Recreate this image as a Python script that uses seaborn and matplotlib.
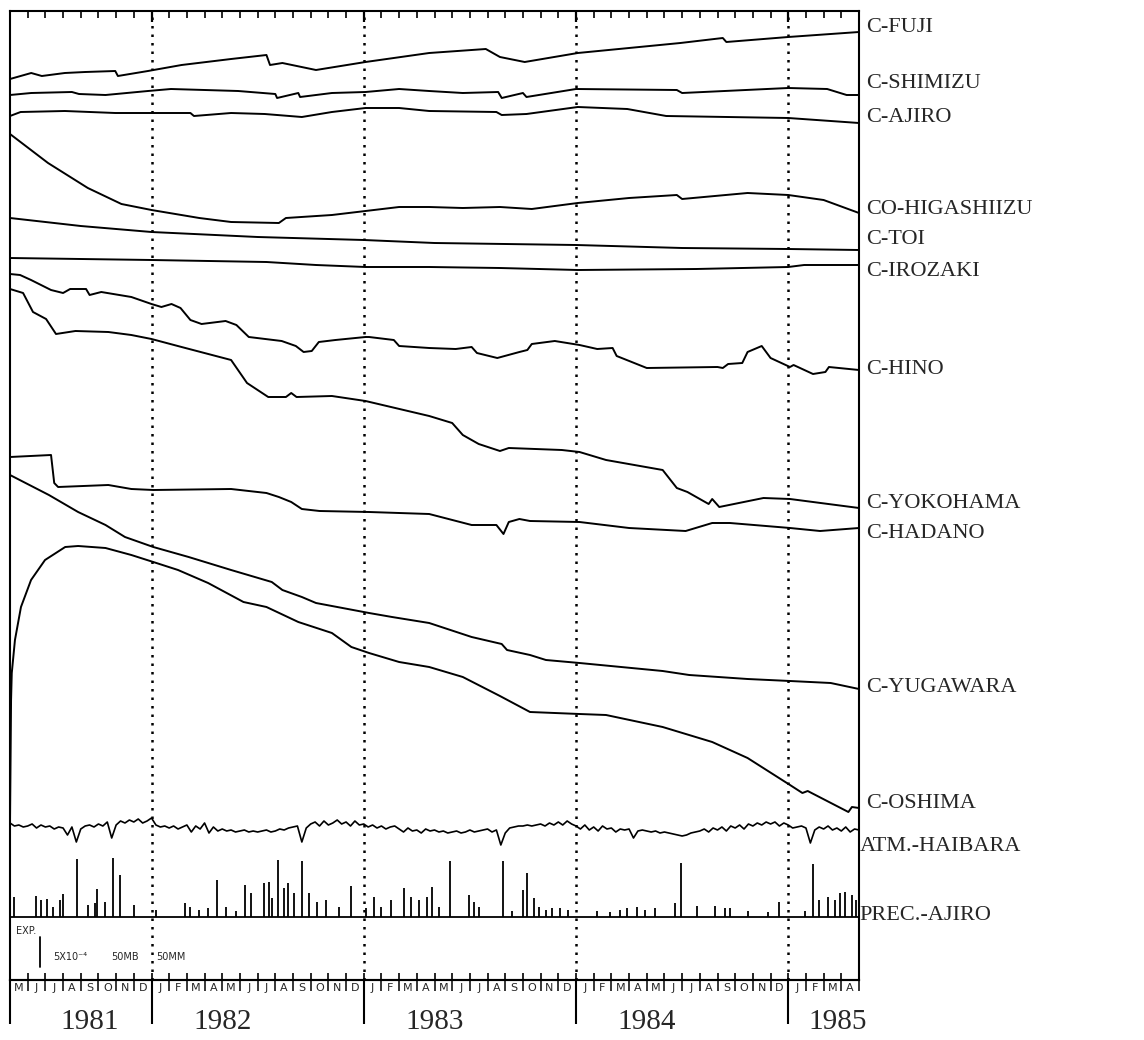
import numpy as np
import pandas as pd
import matplotlib
matplotlib.use('Agg')
import matplotlib.pyplot as plt
import seaborn as sns

# time axis: months since May 1981 (0 .. 48 = May 1985)
month_letters = list("MJJASOND" + "JFMAMJJASOND" * 3 + "JFMA")
month_edges = np.arange(0, 49)
month_centers = month_edges[:-1] + 0.5
year_edges = [0, 8, 20, 32, 44]
year_label_t = [4.5, 12.0, 24.0, 36.0, 46.8]
years = ['1981', '1982', '1983', '1984', '1985']

# traces (vertical level = chart row, larger = lower)
fuji_t = [0, 1.2, 1.8, 3.1, 4.25, 5.95, 6.1, 7.8, 9.7, 12.5, 14.5, 14.7, 15.4, 17.3, 20.1, 23.7,
          26.9, 27.7, 29.1, 32.1, 37.9, 40.3, 40.5, 44.0, 48]
fuji_y = [79, 73, 76, 73, 72, 71, 76, 71, 65, 59, 55, 65, 63, 70, 62, 53,
          49, 57, 62, 53, 43, 38, 42, 37, 32]

shimizu_t = [0, 1.2, 3.5, 3.9, 5.4, 7.8, 9.1, 12.9, 15.0, 15.1, 16.3, 16.4, 18.2, 20.1, 22.0, 23.7,
             25.6, 27.6, 27.8, 29.0, 29.2, 32.0, 37.7, 38.0, 44.0, 46.2, 47.3, 48]
shimizu_y = [95, 93, 92, 94, 95, 91, 89, 91, 94, 98, 93, 97, 93, 92, 89, 91,
             93, 92, 98, 93, 97, 89, 90, 93, 88, 89, 95, 95]

ajiro_t = [0, 0.6, 3.1, 5.95, 10.2, 10.4, 12.5, 14.4, 16.5, 18.2, 20.1, 22.0, 23.7, 27.5, 27.8,
           29.2, 32.1, 34.9, 37.1, 44.0, 48]
ajiro_y = [116, 112, 111, 113, 113, 116, 113, 114, 117, 112, 108, 108, 111, 112, 115,
           114, 107, 109, 116, 118, 123]

higashiizu_t = [0, 2.15, 4.4, 6.3, 8.0, 10.7, 12.5, 15.2, 15.6, 18.2, 20.1, 22.0, 23.7, 25.6, 27.7,
                29.5, 32.1, 35.0, 37.7, 38.0, 41.7, 44.0, 46.0, 48]
higashiizu_y = [134, 163, 188, 204, 210, 218, 222, 223, 218, 215, 211, 207, 207, 208, 207,
                209, 203, 198, 195, 199, 193, 195, 200, 213]

toi_t = [0, 4, 8, 14, 20, 24, 32, 38, 44, 48]
toi_y = [218, 226, 232, 237, 240, 243, 245, 248, 249, 250]

irozaki_t = [0, 8, 14.5, 17.3, 20.1, 23.7, 27.7, 32.1, 38.8, 44, 44.9, 48]
irozaki_y = [258, 260, 262, 265, 267, 267, 268, 270, 269, 267, 265, 265]

hino_t = [0, 0.57, 1.19, 2.32, 3.0, 3.4, 4.3, 4.5, 5.16, 6.86, 8.0, 8.56, 9.13, 9.64, 10.2, 10.83,
          12.19, 12.8, 13.5, 15.36, 16.16, 16.6, 17.06, 17.46, 18.4, 20.1, 20.3, 21.7, 22.0, 23.7,
          25.2, 26.1, 26.4, 27.55, 28.8, 29.25, 29.5, 30.8, 32.2, 33.2, 34.07, 34.3, 36.0, 40.0,
          40.3, 40.6, 41.4, 41.7, 42.5, 43.0, 44.1, 44.3, 45.4, 46.1, 46.3, 48]
hino_y = [274, 275, 280, 290, 293, 289, 289, 295, 292, 297, 304, 307, 304, 308, 320, 324,
          321, 325, 337, 341, 346, 352, 351, 342, 340, 337, 337, 340, 346, 348,
          349, 347, 353, 358, 352, 350, 344, 341, 345, 349, 348, 356, 368, 367,
          368, 364, 363, 352, 346, 358, 367, 365, 374, 372, 367, 370]

yokohama_t = [0, 0.74, 1.3, 2.04, 2.6, 3.7, 5.56, 6.86, 8.0, 9.7, 12.5, 13.4, 14.6, 15.6, 15.9, 16.2,
              18.2, 20.1, 23.7, 25.0, 25.6, 26.5, 27.7, 28.2, 31.2, 32.2, 33.7, 36.9, 37.7, 38.3,
              39.5, 39.7, 40.1, 42.6, 44.1, 48]
yokohama_y = [289, 293, 312, 319, 334, 331, 332, 335, 339, 347, 360, 383, 397, 397, 393, 397,
              396, 401, 416, 423, 435, 444, 451, 448, 450, 452, 460, 470, 488, 492,
              504, 499, 507, 498, 499, 508]

hadano_t = [0, 2.32, 2.5, 2.72, 5.56, 6.86, 8.1, 12.5, 14.5, 15.2, 15.9, 16.5, 17.5, 20.3, 23.7,
            26.1, 27.5, 27.9, 28.2, 28.8, 29.4, 32.2, 35.0, 38.2, 39.7, 40.7, 44.1, 45.8, 48]
hadano_y = [457, 455, 483, 487, 485, 489, 490, 489, 493, 497, 502, 509, 511, 512, 514,
            525, 525, 534, 522, 519, 521, 522, 528, 531, 523, 523, 528, 531, 528]

yugawara_t = [0, 2.2, 3.85, 5.4, 6.5, 8.1, 10.1, 12.5, 14.8, 15.4, 16.5, 17.3, 20.3, 21.6, 23.7,
              26.1, 27.8, 28.1, 29.4, 30.3, 32.2, 36.9, 38.4, 41.7, 44.1, 46.4, 48]
yugawara_y = [475, 495, 512, 525, 537, 547, 557, 570, 582, 590, 597, 603, 613, 617, 623,
              637, 644, 650, 655, 660, 663, 671, 675, 679, 681, 683, 689]

oshima_t = [0.0, 0.06, 0.1, 0.28, 0.62, 1.19, 1.98, 3.12, 3.85, 5.4, 6.86, 8.1, 9.5, 11.2, 13.2,
            14.5, 16.3, 18.2, 19.3, 20.3, 22.0, 23.7, 25.6, 27.7, 29.4, 32.2, 33.7, 36.9, 39.7,
            41.7, 44.1, 44.8, 45.1, 47.4, 47.6, 48]
oshima_y = [822, 700, 673, 640, 607, 580, 560, 547, 546, 548, 555, 562, 570, 583, 602,
            607, 622, 633, 647, 653, 662, 667, 677, 696, 712, 714, 715, 727, 742,
            758, 785, 793, 791, 812, 807, 808]

# atmospheric pressure, read every quarter month
atm_t = np.arange(0, 48.01, 0.25)
atm_y = [823, 826, 825, 827, 826, 824, 828, 825, 827, 826, 829, 827, 828, 835, 827, 842,
         829, 826, 825, 827, 824, 826, 822, 838, 825, 821, 823, 820, 822, 819, 823, 821,
         818, 825, 827, 826, 828, 826, 829, 827, 825, 832, 826, 829, 823, 833, 827, 831,
         829, 831, 830, 832, 831, 830, 832, 831, 832, 831, 830, 832, 831, 829, 830, 828,
         827, 826, 842, 828, 824, 822, 826, 821, 825, 823, 820, 824, 822, 826, 821, 825,
         824, 827, 825, 828, 826, 829, 827, 826, 829, 832, 828, 831, 830, 833, 829, 831,
         830, 832, 831, 833, 832, 831, 833, 832, 830, 832, 831, 830, 829, 832, 830, 845,
         833, 828, 827, 826, 826, 825, 826, 825, 824, 826, 823, 825, 822, 825, 821, 824,
         826, 829, 825, 830, 827, 831, 826, 829, 828, 832, 829, 830, 829, 838, 831, 830,
         831, 832, 831, 833, 832, 833, 834, 835, 836, 835, 833, 832, 831, 829, 832, 828,
         830, 827, 831, 826, 828, 825, 829, 824, 826, 823, 825, 822, 824, 822, 826, 823,
         825, 828, 827, 826, 828, 843, 830, 827, 829, 826, 830, 828, 831, 827, 832, 829,
         830]

# precipitation spikes
prec_base = 917
prec_t = [0.23, 1.47, 1.76, 2.10, 2.44, 2.83, 3.00, 3.80, 4.42, 4.82, 4.93, 5.39, 5.84, 6.24, 7.03,
          8.28, 9.92, 10.20, 10.66, 11.22, 11.68, 12.19, 12.76, 13.27, 13.61, 14.34, 14.63, 14.80,
          15.14, 15.48, 15.70, 16.04, 16.50, 16.89, 17.35, 17.86, 18.59, 19.27, 20.12, 20.58,
          20.97, 21.54, 22.28, 22.68, 23.13, 23.58, 23.87, 24.26, 24.89, 25.96, 26.25, 26.53,
          27.89, 28.40, 29.02, 29.25, 29.65, 29.93, 30.33, 30.67, 31.07, 31.52, 33.16, 33.90,
          34.47, 34.86, 35.43, 35.88, 36.45, 37.59, 37.93, 38.83, 39.85, 40.42, 40.70, 41.72,
          42.86, 43.48, 44.95, 45.41, 45.75, 46.26, 46.66, 46.94, 47.22, 47.62, 47.85]
prec_top = [897, 896, 900, 899, 907, 900, 894, 859, 905, 903, 889, 902, 858, 875, 905,
            910, 903, 907, 910, 908, 880, 907, 911, 885, 893, 883, 882, 898,
            860, 888, 883, 893, 861, 893, 902, 900, 907, 886, 908, 897,
            907, 900, 888, 897, 900, 897, 887, 907, 861, 895, 902, 907,
            861, 911, 890, 873, 898, 907, 910, 908, 908, 910, 911, 912,
            910, 908, 907, 910, 908, 903, 863, 906, 906, 908, 908, 911,
            912, 902, 911, 864, 900, 897, 900, 893, 892, 895, 900]

# scale marks
scale_t = [1.7, 1.7]
scale_y = [937, 967]

labels = ['C-FUJI', 'C-SHIMIZU', 'C-AJIRO', 'CO-HIGASHIIZU', 'C-TOI', 'C-IROZAKI', 'C-HINO',
          'C-YOKOHAMA', 'C-HADANO', 'C-YUGAWARA', 'C-OSHIMA', 'ATM.-HAIBARA', 'PREC.-AJIRO']
label_y = [27, 83, 117, 210, 240, 272, 370, 503, 534, 688, 804, 847, 916]
label_x = [1.008] * 11 + [1.001, 1.001]

sns.set_theme(style='white')
plt.rcParams['font.family'] = ['Liberation Serif', 'DejaVu Serif']

fig = plt.figure(figsize=(11.44, 10.4), dpi=100)
ax = fig.add_axes([10 / 1144, 60 / 1040, 849 / 1144, 969 / 1040])

for t in year_edges[1:]:
    ax.axvline(t, color='black', lw=1.8, ls=(0, (1, 2.4)))

traces = [(fuji_t, fuji_y), (shimizu_t, shimizu_y), (ajiro_t, ajiro_y),
          (higashiizu_t, higashiizu_y), (toi_t, toi_y), (irozaki_t, irozaki_y),
          (hino_t, hino_y), (yokohama_t, yokohama_y), (hadano_t, hadano_y),
          (yugawara_t, yugawara_y), (oshima_t, oshima_y)]
for tt, yy in traces:
    sns.lineplot(x=tt, y=yy, ax=ax, color='black', linewidth=1.4, sort=False, estimator=None)

sns.lineplot(x=atm_t, y=atm_y, ax=ax, color='black', linewidth=1.2, sort=False, estimator=None)
ax.vlines(prec_t, prec_base, prec_top, color='black', lw=1.3)
ax.axhline(prec_base, color='black', lw=1.3)

ax.plot(scale_t, scale_y, color='black', lw=1.3)
ax.text(0.35, 931, 'EXP.', fontsize=7, family='DejaVu Sans', va='center')
ax.text(2.44, 957, '5X10⁻⁴', fontsize=7, family='DejaVu Sans', va='center')
ax.text(5.73, 957, '50MB', fontsize=7, family='DejaVu Sans', va='center')
ax.text(8.28, 957, '50MM', fontsize=7, family='DejaVu Sans', va='center')

ax.set_xlim(0, 48)
ax.set_ylim(980, 11)
ax.set_yticks([])
ax.set_xticks(month_edges)
ax.tick_params(axis='x', which='major', direction='in', length=5, width=1.2,
               top=True, bottom=True, labelbottom=False, color='black')
for s in ax.spines.values():
    s.set_color('black')
    s.set_linewidth(1.5)

# month separators and letters
sec_m = ax.secondary_xaxis('bottom')
sec_m.set_ticks(month_edges, labels=[''] * len(month_edges))
sec_m.set_ticks(month_centers, labels=month_letters, minor=True)
sec_m.tick_params(which='major', direction='out', length=8, width=1.1, color='black')
sec_m.tick_params(which='minor', length=0, pad=2, labelsize=8)
for lab in sec_m.get_xticklabels(minor=True):
    lab.set_family('DejaVu Sans')
sec_m.spines['bottom'].set_linewidth(1.5)

# year separators and labels
sec_y = ax.secondary_xaxis('bottom')
sec_y.set_ticks(year_edges, labels=[''] * len(year_edges))
sec_y.set_ticks(year_label_t, labels=years, minor=True)
sec_y.tick_params(which='major', direction='out', length=32, width=1.5, color='black')
sec_y.tick_params(which='minor', length=0, pad=21, labelsize=21)

sec_t = ax.secondary_xaxis('top')
sec_t.set_ticks(year_edges[1:], labels=[''] * 4)
sec_t.tick_params(which='major', direction='in', length=8, width=1.6, color='black')

tr = ax.get_yaxis_transform()
for lx, ly, lab in zip(label_x, label_y, labels):
    ax.text(lx, ly, lab, transform=tr, fontsize=16, va='center', ha='left', clip_on=False)

fig.savefig('out.png', dpi=100, facecolor='white')
